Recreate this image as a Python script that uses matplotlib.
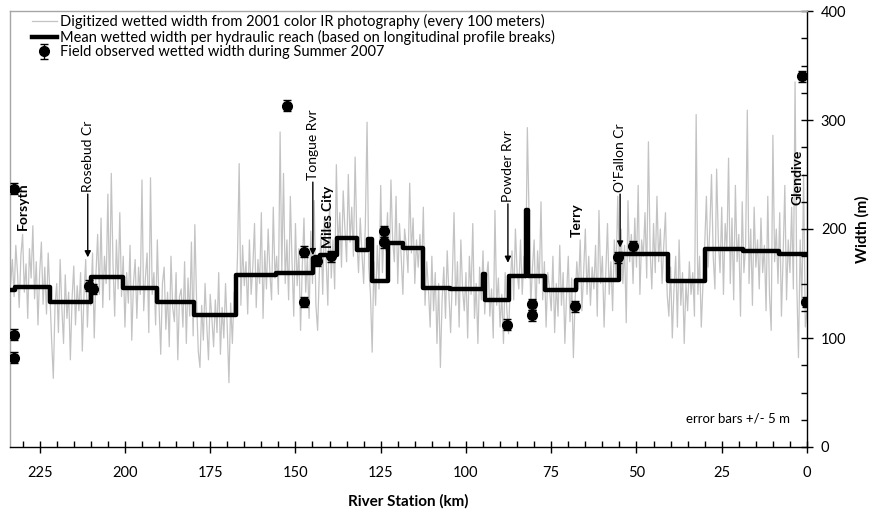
import numpy as np
import matplotlib
matplotlib.use("Agg")
import matplotlib.pyplot as plt
from matplotlib.ticker import MultipleLocator

plt.rcParams['font.family'] = ['Lato', 'DejaVu Sans']

# ---- digitized wetted width (sampled every 0.5 km, starting at km 233.5, going downstream) ----
START_KM = 233.5
STEP_KM = 0.5
digitized_width = [
    150, 172, 138, 185, 160, 128, 176, 195, 142, 168, 118, 182, 155, 203, 136, 170, 112, 160, 188, 131,
    165, 122, 178, 140, 98, 63, 130, 150, 105, 172, 128, 95, 158, 118, 142, 80, 136, 166, 112, 148,
    125, 160, 88, 140, 172, 110, 152, 130, 178, 100, 158, 195, 140, 210, 128, 175, 150, 232, 135, 251,
    168, 120, 190, 145, 215, 138, 175, 110, 160, 132, 185, 98, 150, 172, 118, 165, 140, 245, 125, 155,
    178, 105, 247, 140, 160, 112, 190, 130, 85, 150, 165, 108, 142, 92, 175, 128, 115, 160, 80, 138,
    145, 110, 170, 95, 155, 120, 188, 102, 204, 135, 88, 73, 130, 98, 150, 112, 80, 140, 118, 92,
    135, 105, 160, 85, 128, 100, 150, 110, 59, 132, 95, 142, 120, 175, 260, 130, 185, 148, 170, 122,
    190, 140, 165, 205, 128, 172, 150, 215, 118, 180, 145, 200, 160, 135, 220, 155, 175, 140, 289, 160,
    251, 150, 190, 135, 230, 170, 120, 205, 148, 182, 107, 165, 210, 142, 175, 118, 198, 150, 226, 130,
    107, 160, 195, 140, 210, 172, 130, 225, 155, 190, 145, 259, 180, 215, 165, 235, 200, 170, 250, 188,
    220, 175, 266, 190, 160, 210, 178, 150, 205, 298, 165, 140, 87, 170, 130, 185, 145, 240, 160, 200,
    180, 215, 160, 245, 190, 170, 230, 150, 205, 175, 140, 200, 185, 160, 242, 178, 210, 150, 190, 165,
    195, 160, 220, 130, 170, 145, 110, 175, 125, 160, 95, 150, 73, 135, 165, 118, 180, 140, 105, 155,
    215, 130, 170, 110, 190, 145, 125, 160, 100, 175, 140, 205, 118, 150, 95, 165, 135, 180, 122, 155,
    170, 120, 145, 100, 217, 130, 155, 110, 140, 95, 160, 125, 104, 150, 180, 135, 200, 160, 145, 190,
    140, 175, 155, 293, 210, 130, 165, 190, 120, 180, 150, 225, 135, 170, 110, 160, 145, 125, 175, 105,
    150, 120, 185, 130, 160, 95, 140, 175, 115, 155, 82, 135, 170, 145, 190, 125, 160, 200, 140, 175,
    130, 165, 145, 185, 120, 217, 150, 175, 110, 160, 205, 140, 170, 125, 190, 155, 230, 165, 200, 150,
    185, 114, 226, 170, 195, 150, 210, 165, 240, 140, 190, 175, 215, 155, 280, 180, 145, 205, 160, 230,
    170, 200, 150, 185, 215, 140, 120, 165, 100, 145, 175, 110, 190, 130, 160, 95, 150, 125, 170, 140,
    160, 120, 305, 140, 175, 110, 150, 185, 230, 165, 200, 250, 175, 145, 255, 190, 160, 220, 140, 205,
    180, 265, 150, 210, 135, 240, 170, 195, 120, 225, 160, 185, 309, 150, 200, 130, 220, 165, 190, 145,
    210, 160, 185, 125, 230, 140, 107, 286, 170, 200, 150, 215, 120, 175, 240, 135, 190, 160, 220, 145,
    335, 150, 82, 190, 130, 250, 110, 125,
]

# ---- mean wetted width per hydraulic reach (reach boundaries in km, upstream -> downstream) ----
reach_edges_km = [233.7, 232.3, 222.0, 210.0, 200.6, 190.6, 179.8, 167.4, 155.7, 144.9, 142.8,
                  137.8, 132.0, 128.7, 127.6, 122.9, 118.5, 112.6, 104.7, 95.0, 94.4, 87.4,
                  82.4, 81.8, 76.8, 67.7, 55.1, 40.8, 29.9, 18.8, 8.2, 0.0]
reach_mean_width = [144, 147, 133, 156, 146, 133, 121, 158, 159.5, 173, 176,
                    192, 181, 191, 152, 187, 183, 146, 145, 159, 135,
                    157, 217, 157, 144, 153, 177, 152, 182, 180, 177]

# ---- field observed wetted width, summer 2007 ----
field_km = [232.6, 232.6, 232.4, 210.5, 209.5, 152.5, 147.5, 147.5, 143.8, 139.5,
            124.0, 124.0, 88.0, 80.5, 80.5, 68.0, 55.5, 51.0, 1.5, 0.2]
field_width = [103, 82, 237, 148, 145, 313, 179, 133, 171, 175,
               198, 188, 112, 131, 121, 129, 174, 184, 340, 133]
field_err = 5

# ---- labels ----
towns = ["Forsyth", "Miles City", "Terry", "Glendive"]
town_km = [230.0, 140.5, 67.5, 2.9]
town_text_base = [199, 183, 193, 222]
tribs = ["Rosebud Cr", "Tongue Rvr", "Powder Rvr", "O'Fallon Cr"]
trib_km = [210.9, 144.9, 87.7, 54.8]
trib_text_base = [234, 245, 225, 234]
trib_arrow_tip = [174, 176, 169, 183]

fig = plt.figure(figsize=(8.73, 5.18), dpi=100)
ax = fig.add_axes([10 / 873, 71 / 518, 797 / 873, 436 / 518])

stations = START_KM - STEP_KM * np.arange(len(digitized_width))
ax.plot(stations, digitized_width, color='#c3c3c3', lw=0.9, zorder=1,
        label='Digitized wetted width from 2001 color IR photography (every 100 meters)')

step_y = list(reach_mean_width) + [reach_mean_width[-1]]
ax.step(reach_edges_km, step_y, where='post', color='black', lw=3.2, zorder=3,
        label='Mean wetted width per hydraulic reach (based on longitudinal profile breaks)')

ax.errorbar(field_km, field_width, yerr=field_err, fmt='o', color='black', ms=7,
            ecolor='black', elinewidth=1, capsize=3, zorder=4,
            label='Field observed wetted width during Summer 2007')

for name, km, base in zip(towns, town_km, town_text_base):
    ax.text(km, base, name, rotation=90, ha='center', va='bottom', fontsize=10,
            fontweight='bold', zorder=5)
for name, km, base, tip in zip(tribs, trib_km, trib_text_base, trib_arrow_tip):
    ax.text(km, base, name, rotation=90, ha='center', va='bottom', fontsize=10, zorder=5)
    ax.annotate('', xy=(km, tip), xytext=(km, base - 2),
                arrowprops=dict(arrowstyle='-|>', color='black', lw=1, mutation_scale=9,
                                shrinkA=0, shrinkB=0), zorder=5)

ax.text(0.9787, 0.065, 'error bars +/- 5 m', transform=ax.transAxes, ha='right', va='center',
        fontsize=9.5)

ax.set_xlim(233.7, 0)
ax.set_ylim(0, 400)
ax.xaxis.set_major_locator(MultipleLocator(25))
ax.xaxis.set_minor_locator(MultipleLocator(5))
ax.yaxis.set_major_locator(MultipleLocator(100))
ax.yaxis.set_minor_locator(MultipleLocator(25))
ax.yaxis.tick_right()
ax.yaxis.set_label_position('right')
ax.tick_params(axis='both', which='major', direction='inout', length=8, width=1,
               labelsize=10.5, color='black')
ax.tick_params(axis='both', which='minor', direction='in', length=4, width=1, color='black')
ax.tick_params(axis='x', which='major', pad=10)
ax.tick_params(axis='y', which='major', pad=6)

ax.spines['left'].set_color('#a6a6a6')
ax.spines['top'].set_color('#a6a6a6')
ax.spines['bottom'].set_color('black')
ax.spines['right'].set_color('black')
for s in ax.spines.values():
    s.set_linewidth(1)

ax.set_xlabel('River Station (km)', fontsize=11, fontweight='bold', labelpad=10)
ax.set_ylabel('Width (m)', fontsize=11, fontweight='bold', labelpad=6)

leg = ax.legend(loc='upper left', frameon=False, fontsize=10.5, handlelength=1.7,
                handletextpad=0.25, labelspacing=0.05, borderaxespad=0.0, borderpad=0.1,
                bbox_to_anchor=(0.0257, 0.997))

fig.savefig('out.png', dpi=100)
